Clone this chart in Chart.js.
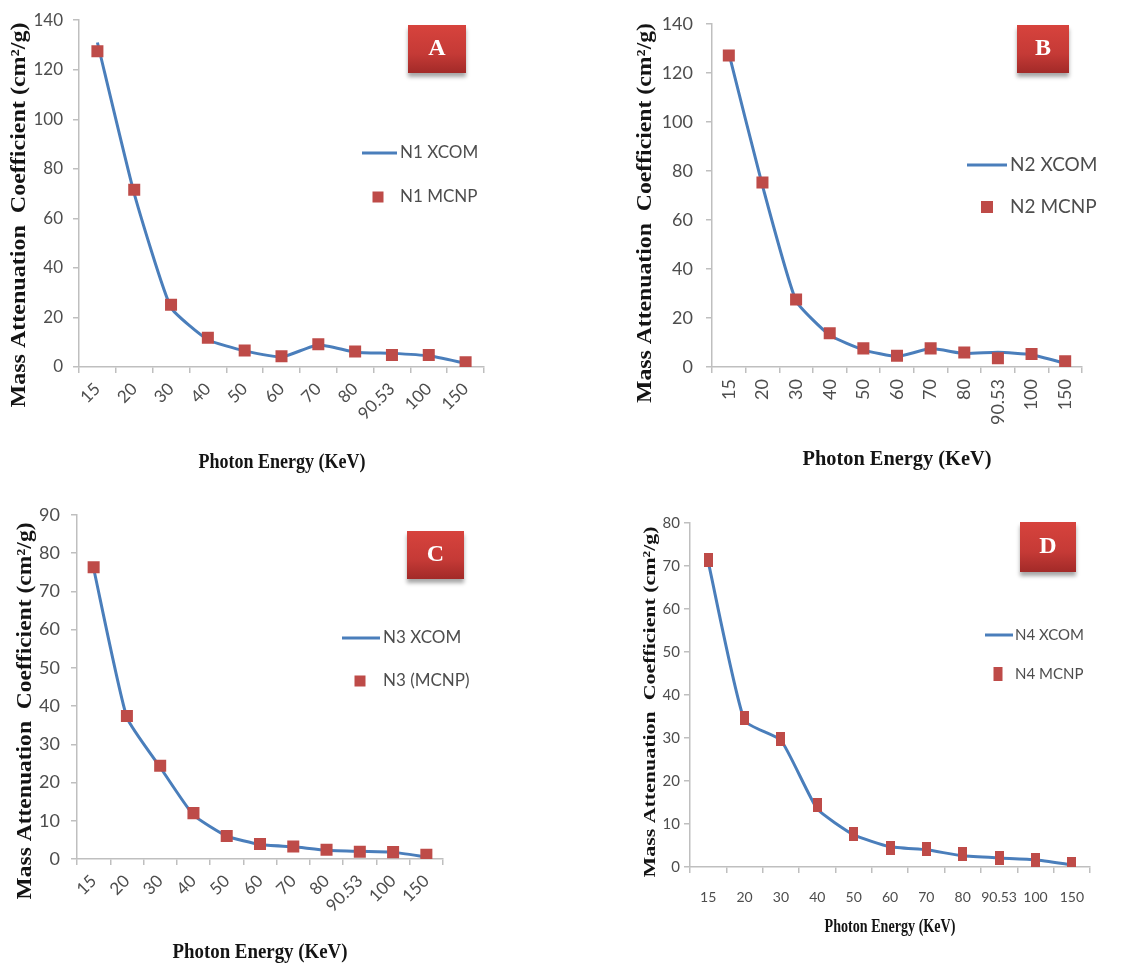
<!DOCTYPE html>
<html>
<head>
<meta charset="utf-8">
<script src="https://cdn.jsdelivr.net/npm/chart.js@4.4.1/dist/chart.umd.min.js"></script>
<style>
body { margin: 0; background: #fff; width: 1148px; height: 967px; position: relative; overflow: hidden; }
.panel { position: absolute; }
</style>
</head>
<body>
<div class="panel" style="left:0;top:0"><canvas id="chartA" width="560" height="480"></canvas></div>
<div class="panel" style="left:570px;top:0"><canvas id="chartB" width="578" height="480"></canvas></div>
<div class="panel" style="left:0;top:480px"><canvas id="chartC" width="560" height="487"></canvas></div>
<div class="panel" style="left:570px;top:480px"><canvas id="chartD" width="578" height="487"></canvas></div>
<script>
const energies = ['15', '20', '30', '40', '50', '60', '70', '80', '90.53', '100', '150'];

const n1Xcom = [131, 70, 24, 11, 6.5, 4, 9, 6, 5.5, 4.5, 1.5];
const n1Mcnp = [127.5, 71.6, 25.1, 11.8, 6.7, 4.3, 9.2, 6.3, 4.8, 4.8, 1.9];
const n2Xcom = [128, 74, 27, 13, 7, 4.3, 7.5, 5.5, 6, 5, 1.5];
const n2Mcnp = [127.1, 75.3, 27.5, 13.8, 7.6, 4.6, 7.6, 5.9, 3.6, 5.3, 2.3];
const n3Xcom = [76, 37, 24, 11.5, 6, 3.8, 3.2, 2.3, 2, 1.8, 0.5];
const n3Mcnp = [76.3, 37.4, 24.4, 12.0, 6.0, 3.9, 3.3, 2.4, 1.9, 1.8, 1.1];
const n4Xcom = [71, 34, 29.5, 13.5, 7.5, 4.7, 4, 2.6, 2.1, 1.7, 0.5];
const n4Mcnp = [71.3, 34.6, 29.7, 14.4, 7.7, 4.5, 4.2, 3.0, 2.1, 1.7, 0.8];

const yTitle = 'Mass Attenuation  Coefficient (cm\u00b2/g)';
const xTitle = 'Photon Energy (KeV)';

const lineColor = '#4a7ebb';
const markColor = '#be4b48';
const tickColor = '#4d4d4d';
const axisColor = '#bfbfbf';

// narrow marker used in panel D
const narrowMark = document.createElement('canvas');
narrowMark.width = 9;
narrowMark.height = 14;
const nm = narrowMark.getContext('2d');
nm.fillStyle = markColor;
nm.fillRect(0, 0, 9, 14);

function drawFitted(ctx, text, x, y, w, font, rot) {
    ctx.save();
    ctx.translate(x, y);
    ctx.rotate(rot);
    ctx.font = font;
    const m = ctx.measureText(text).width;
    ctx.scale(w / m, 1);
    ctx.textAlign = 'center';
    ctx.textBaseline = 'middle';
    ctx.fillStyle = '#141414';
    ctx.fillText(text, 0, 0);
    ctx.restore();
}

const panelDecor = {
    id: 'panelDecor',
    afterDraw(chart, args, o) {
        const ctx = chart.ctx;
        drawFitted(ctx, xTitle, o.xt[0], o.xt[1], o.xt[2], 'bold ' + o.xt[3] + 'px "Liberation Serif"', 0);
        drawFitted(ctx, yTitle, o.yt[0], o.yt[1], o.yt[2], 'bold ' + o.yt[3] + 'px "Liberation Serif"', -Math.PI / 2);

        const ds = chart.data.datasets;
        const lg = o.legend;
        ctx.save();
        ctx.strokeStyle = ds[0].borderColor;
        ctx.lineWidth = 3;
        ctx.beginPath();
        ctx.moveTo(lg.line[0], lg.y1);
        ctx.lineTo(lg.line[1], lg.y1);
        ctx.stroke();
        ctx.fillStyle = markColor;
        ctx.fillRect(lg.mark[0] - lg.mark[1] / 2, lg.y2 - lg.mark[2] / 2, lg.mark[1], lg.mark[2]);
        ctx.fillStyle = tickColor;
        ctx.font = lg.size + 'px Lato';
        ctx.textAlign = 'left';
        ctx.textBaseline = 'middle';
        ctx.fillText(ds[0].label, lg.tx, lg.y1);
        ctx.fillText(ds[1].label, lg.tx, lg.y2);
        ctx.restore();

        const b = o.box;
        ctx.save();
        ctx.shadowColor = 'rgba(0,0,0,0.35)';
        ctx.shadowOffsetY = 4;
        ctx.shadowBlur = 4;
        const g = ctx.createLinearGradient(0, b.y, 0, b.y + b.h);
        g.addColorStop(0, '#d7433d');
        g.addColorStop(0.6, '#c53a36');
        g.addColorStop(1, '#a22a28');
        ctx.fillStyle = g;
        ctx.fillRect(b.x, b.y, b.w, b.h);
        ctx.restore();
        ctx.save();
        ctx.fillStyle = '#fff';
        ctx.font = 'bold 24px "Liberation Serif"';
        ctx.textAlign = 'center';
        ctx.textBaseline = 'middle';
        ctx.fillText(b.text, b.x + b.w / 2, b.y + b.h / 2);
        ctx.restore();
    }
};

function makePanel(id, p) {
    const ctx = document.getElementById(id);
    return new Chart(ctx, {
        type: 'line',
        data: {
            labels: energies,
            datasets: [{
                label: p.names[0],
                data: p.xcom,
                borderColor: lineColor,
                borderWidth: 3,
                pointRadius: 0,
                tension: 0.15,
                order: 1
            }, {
                label: p.names[1],
                data: p.mcnp,
                showLine: false,
                pointStyle: p.marker || 'rect',
                pointRadius: 8.5,
                pointBackgroundColor: markColor,
                pointBorderColor: markColor,
                pointBorderWidth: 0,
                order: 0
            }]
        },
        options: {
            responsive: false,
            animation: false,
            layout: { padding: { top: p.pad[0], right: p.pad[1], bottom: 0, left: 0 } },
            plugins: {
                legend: { display: false },
                tooltip: { enabled: false },
                panelDecor: p.decor
            },
            scales: {
                x: {
                    offset: true,
                    grid: { offset: true, drawOnChartArea: false, tickLength: 6, color: axisColor, lineWidth: 1.5 },
                    border: { color: axisColor, width: 1.5 },
                    ticks: {
                        autoSkip: false,
                        minRotation: p.rot,
                        maxRotation: p.rot,
                        color: tickColor,
                        padding: p.xPad,
                        font: { family: 'Lato', size: p.xSize }
                    },
                    afterFit: s => { s.height = p.xH; }
                },
                y: {
                    min: 0,
                    max: p.yMax,
                    ticks: {
                        stepSize: p.yStep,
                        color: tickColor,
                        padding: p.yPad,
                        font: { family: 'Lato', size: p.ySize }
                    },
                    grid: { drawOnChartArea: false, tickLength: 6, color: axisColor, lineWidth: 1.5 },
                    border: { color: axisColor, width: 1.5 },
                    afterFit: s => { s.width = p.yW; }
                }
            }
        },
        plugins: [panelDecor]
    });
}

makePanel('chartA', {
    names: ['N1 XCOM', 'N1 MCNP'], xcom: n1Xcom, mcnp: n1Mcnp,
    yMax: 140, yStep: 20, pad: [16, 76], yW: 79, xH: 113,
    rot: 45, xSize: 17, ySize: 17, xPad: 6, yPad: 10,
    decor: {
        xt: [282, 463, 167, 21], yt: [19, 215, 385, 22],
        legend: { line: [362, 397], y1: 153, y2: 197, tx: 400, mark: [378, 11, 11], size: 17 },
        box: { x: 408, y: 25, w: 58, h: 48, text: 'A' }
    }
});

makePanel('chartB', {
    names: ['N2 XCOM', 'N2 MCNP'], xcom: n2Xcom, mcnp: n2Mcnp,
    yMax: 140, yStep: 20, pad: [16, 66], yW: 142, xH: 113,
    rot: 90, xSize: 18, ySize: 18, xPad: 6, yPad: 13,
    decor: {
        xt: [327, 460, 189, 21], yt: [75, 213, 380, 22],
        legend: { line: [397, 437], y1: 165, y2: 207, tx: 440, mark: [417, 12, 12], size: 19 },
        box: { x: 447, y: 25, w: 52, h: 48, text: 'B' }
    }
});

makePanel('chartC', {
    names: ['N3 XCOM', 'N3 (MCNP)'], xcom: n3Xcom, mcnp: n3Mcnp,
    yMax: 90, yStep: 10, pad: [35, 117], yW: 77, xH: 108,
    rot: 45, xSize: 17, ySize: 18, xPad: 6, yPad: 11,
    decor: {
        xt: [260, 473, 175, 21], yt: [25, 231, 377, 22],
        legend: { line: [342, 380], y1: 158, y2: 201, tx: 383, mark: [360, 11, 11], size: 17 },
        box: { x: 407, y: 51, w: 57, h: 48, text: 'C' }
    }
});

makePanel('chartD', {
    names: ['N4 XCOM', 'N4 MCNP'], xcom: n4Xcom, mcnp: n4Mcnp, marker: narrowMark,
    yMax: 80, yStep: 10, pad: [43, 58], yW: 120, xH: 100,
    rot: 0, xSize: 14, ySize: 15, xPad: 16, yPad: 4,
    decor: {
        xt: [320, 447, 131, 18], yt: [81, 222, 351, 17],
        legend: { line: [415, 443], y1: 155, y2: 194, tx: 445, mark: [428, 9, 14], size: 15 },
        box: { x: 450, y: 42, w: 56, h: 50, text: 'D' }
    }
});
</script>
</body>
</html>
